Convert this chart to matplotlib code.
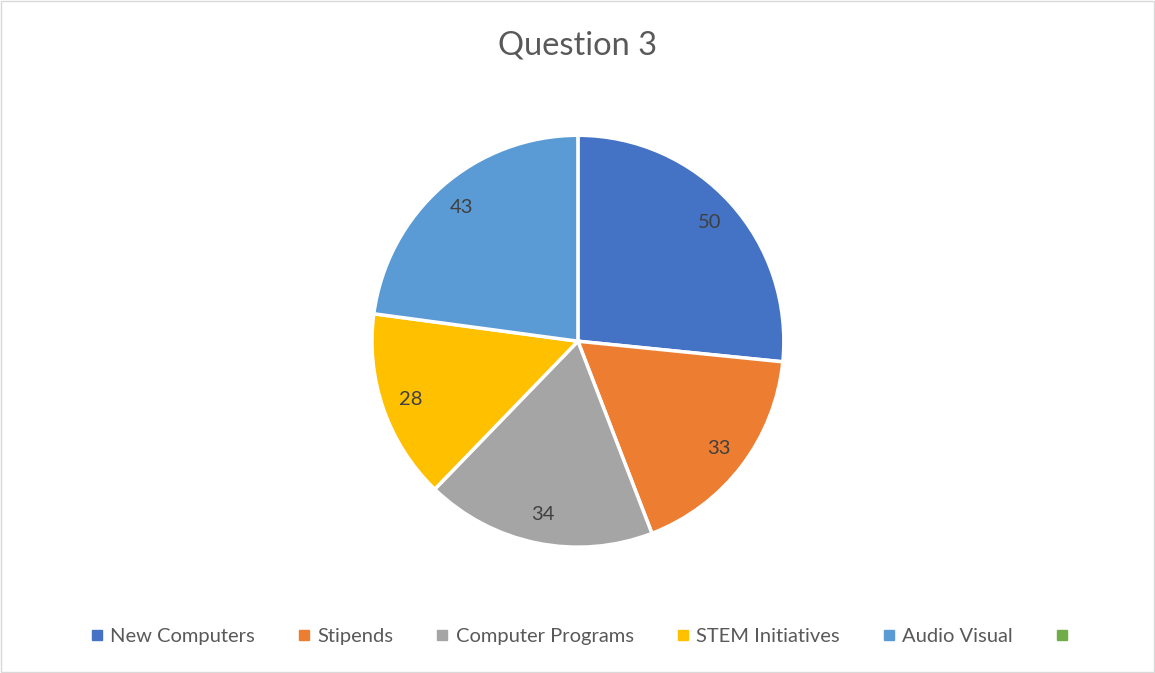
import matplotlib.pyplot as plt
from matplotlib.lines import Line2D
from matplotlib.patches import Rectangle

categories = ["New Computers", "Stipends", "Computer Programs", "STEM Initiatives", "Audio Visual", ""]
values = [50, 33, 34, 28, 43, 0]
colors = ["#4472C4", "#ED7D31", "#A5A5A5", "#FFC000", "#5B9BD5", "#70AD47"]

plt.rcParams['font.family'] = ['Lato', 'DejaVu Sans']

fig = plt.figure(figsize=(11.55, 6.73), dpi=100)
fig.patches.append(Rectangle((0.001, 0.001), 0.998, 0.997, transform=fig.transFigure,
                             fill=False, edgecolor="#D9D9D9", linewidth=1))

ax = fig.add_axes([0.322, 0.187, 0.3567, 0.612])
shown = [(v, c) for v, c in zip(values, colors) if v > 0]
wedges, texts = ax.pie([v for v, c in shown], colors=[c for v, c in shown],
                       labels=[str(v) for v, c in shown], labeldistance=0.86,
                       startangle=90, counterclock=False,
                       wedgeprops=dict(edgecolor="white", linewidth=2.5),
                       textprops=dict(fontsize=14.5, color="#404040"))
for t in texts:
    t.set_horizontalalignment("center")
    t.set_verticalalignment("center")
ax.set_xlim(-1, 1)
ax.set_ylim(-1, 1)
ax.set_aspect("equal")

fig.text(0.5, 0.932, "Question 3", ha="center", va="center", fontsize=23.5, color="#595959")

handles = [Line2D([], [], marker="s", linestyle="", markersize=7, color=c) for c in colors]
fig.legend(handles, categories, loc="center", bbox_to_anchor=(0.503, 1 - 636 / 673), ncol=6,
           frameon=False, fontsize=14.5, labelcolor="#595959", handletextpad=0.15,
           columnspacing=1.95, handlelength=1.0)

fig.savefig("out.png", dpi=100)
